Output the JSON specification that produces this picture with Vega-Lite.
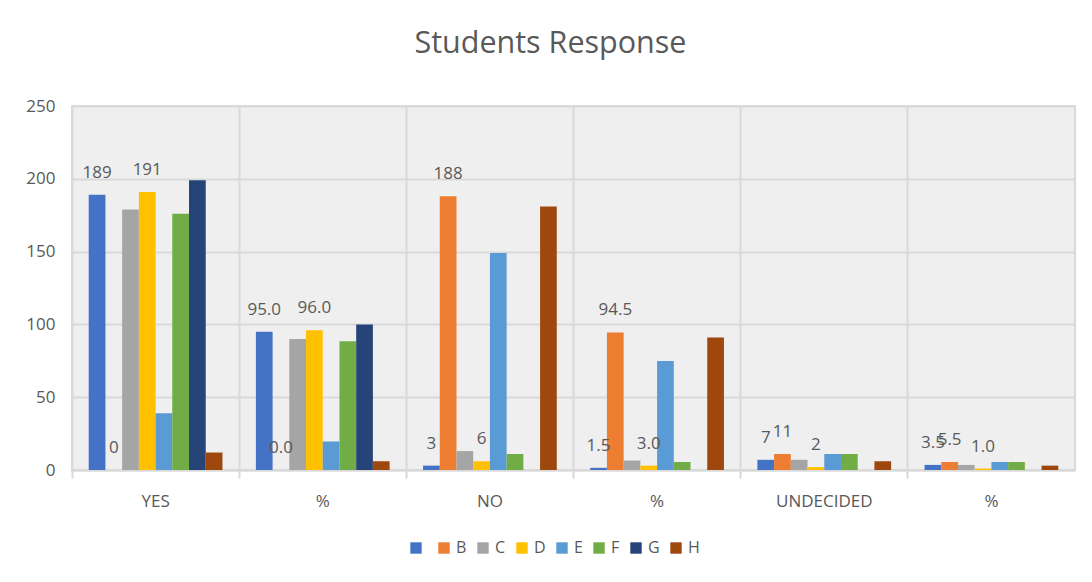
{
  "$schema": "https://vega.github.io/schema/vega-lite/v6.json",
  "width": 1003,
  "height": 364,
  "autosize": {"type": "none"},
  "padding": {"left": 72, "top": 106, "right": 17, "bottom": 112},
  "background": "#ffffff",
  "title": {
    "text": "Students Response",
    "font": "Open Sans",
    "fontSize": 30.5,
    "fontWeight": "normal",
    "color": "#595959",
    "anchor": "middle",
    "frame": "bounds",
    "offset": 38
  },
  "data": {
    "values": [
      {"category": "YES", "series": " ", "value": 189},
      {"category": "YES", "series": "B", "value": 0},
      {"category": "YES", "series": "C", "value": 179},
      {"category": "YES", "series": "D", "value": 191},
      {"category": "YES", "series": "E", "value": 39},
      {"category": "YES", "series": "F", "value": 176},
      {"category": "YES", "series": "G", "value": 199},
      {"category": "YES", "series": "H", "value": 12},
      {"category": "YES %", "series": " ", "value": 95.0},
      {"category": "YES %", "series": "B", "value": 0.0},
      {"category": "YES %", "series": "C", "value": 90.0},
      {"category": "YES %", "series": "D", "value": 96.0},
      {"category": "YES %", "series": "E", "value": 19.6},
      {"category": "YES %", "series": "F", "value": 88.4},
      {"category": "YES %", "series": "G", "value": 100.0},
      {"category": "YES %", "series": "H", "value": 6.0},
      {"category": "NO", "series": " ", "value": 3},
      {"category": "NO", "series": "B", "value": 188},
      {"category": "NO", "series": "C", "value": 13},
      {"category": "NO", "series": "D", "value": 6},
      {"category": "NO", "series": "E", "value": 149},
      {"category": "NO", "series": "F", "value": 11},
      {"category": "NO", "series": "G", "value": 0},
      {"category": "NO", "series": "H", "value": 181},
      {"category": "NO %", "series": " ", "value": 1.5},
      {"category": "NO %", "series": "B", "value": 94.5},
      {"category": "NO %", "series": "C", "value": 6.5},
      {"category": "NO %", "series": "D", "value": 3.0},
      {"category": "NO %", "series": "E", "value": 74.9},
      {"category": "NO %", "series": "F", "value": 5.5},
      {"category": "NO %", "series": "G", "value": 0},
      {"category": "NO %", "series": "H", "value": 91.0},
      {"category": "UNDECIDED", "series": " ", "value": 7},
      {"category": "UNDECIDED", "series": "B", "value": 11},
      {"category": "UNDECIDED", "series": "C", "value": 7},
      {"category": "UNDECIDED", "series": "D", "value": 2},
      {"category": "UNDECIDED", "series": "E", "value": 11},
      {"category": "UNDECIDED", "series": "F", "value": 11},
      {"category": "UNDECIDED", "series": "G", "value": 0},
      {"category": "UNDECIDED", "series": "H", "value": 6},
      {"category": "UNDECIDED %", "series": " ", "value": 3.5},
      {"category": "UNDECIDED %", "series": "B", "value": 5.5},
      {"category": "UNDECIDED %", "series": "C", "value": 3.5},
      {"category": "UNDECIDED %", "series": "D", "value": 1.0},
      {"category": "UNDECIDED %", "series": "E", "value": 5.5},
      {"category": "UNDECIDED %", "series": "F", "value": 5.5},
      {"category": "UNDECIDED %", "series": "G", "value": 0},
      {"category": "UNDECIDED %", "series": "H", "value": 3.0}
    ]
  },
  "encoding": {
    "x": {
      "field": "category",
      "type": "nominal",
      "sort": ["YES", "YES %", "NO", "NO %", "UNDECIDED", "UNDECIDED %"],
      "scale": {"paddingInner": 0, "paddingOuter": 0},
      "axis": {
        "title": null,
        "labelAngle": 0,
        "labelExpr": "indexof(datum.value, '%') >= 0 ? '%' : datum.value",
        "bandPosition": 0,
        "grid": true,
        "gridColor": "#d9d9d9",
        "gridWidth": 2,
        "ticks": true,
        "tickColor": "#d9d9d9",
        "tickWidth": 2,
        "tickSize": 8,
        "domainColor": "#d9d9d9",
        "domainWidth": 2,
        "labelPadding": 15
      }
    },
    "xOffset": {
      "field": "series",
      "type": "nominal",
      "scale": {"domain": [" ", "B", "C", "D", "E", "F", "G", "H"], "paddingOuter": 1.25}
    },
    "y": {
      "field": "value",
      "type": "quantitative",
      "scale": {"domain": [0, 250], "nice": false},
      "axis": {
        "title": null,
        "values": [0, 50, 100, 150, 200, 250],
        "domain": false,
        "ticks": false,
        "grid": true,
        "gridColor": "#d9d9d9",
        "gridWidth": 2,
        "labelPadding": 17
      }
    }
  },
  "layer": [
    {
      "mark": {"type": "bar"},
      "encoding": {
        "color": {
          "field": "series",
          "type": "nominal",
          "scale": {
            "domain": [" ", "B", "C", "D", "E", "F", "G", "H"],
            "range": ["#4472C4", "#ED7D31", "#A5A5A5", "#FFC000", "#5B9BD5", "#70AD47", "#264478", "#9E480E"]
          },
          "legend": {
            "orient": "none",
            "legendX": 336,
            "legendY": 434,
            "direction": "horizontal",
            "title": null,
            "symbolType": "square",
            "symbolSize": 130,
            "labelOffset": 4,
            "columnPadding": 8
          }
        }
      }
    },
    {
      "transform": [
        {"filter": "datum.series == ' ' || datum.series == 'B' || datum.series == 'D'"},
        {"calculate": "indexof(datum.category, '%') >= 0 ? format(datum.value, '.1f') : format(datum.value, 'd')", "as": "label"}
      ],
      "mark": {
        "type": "text",
        "baseline": "alphabetic",
        "dy": -17,
        "font": "Open Sans",
        "fontSize": 17,
        "color": "#595959"
      },
      "encoding": {
        "text": {"field": "label", "type": "nominal"}
      }
    }
  ],
  "config": {
    "view": {"stroke": "#d9d9d9", "strokeWidth": 2, "fill": "#efefef"},
    "axis": {
      "labelFont": "Open Sans",
      "labelFontSize": 17,
      "labelColor": "#595959"
    },
    "legend": {
      "labelFont": "Open Sans",
      "labelFontSize": 16,
      "labelColor": "#595959"
    }
  }
}
